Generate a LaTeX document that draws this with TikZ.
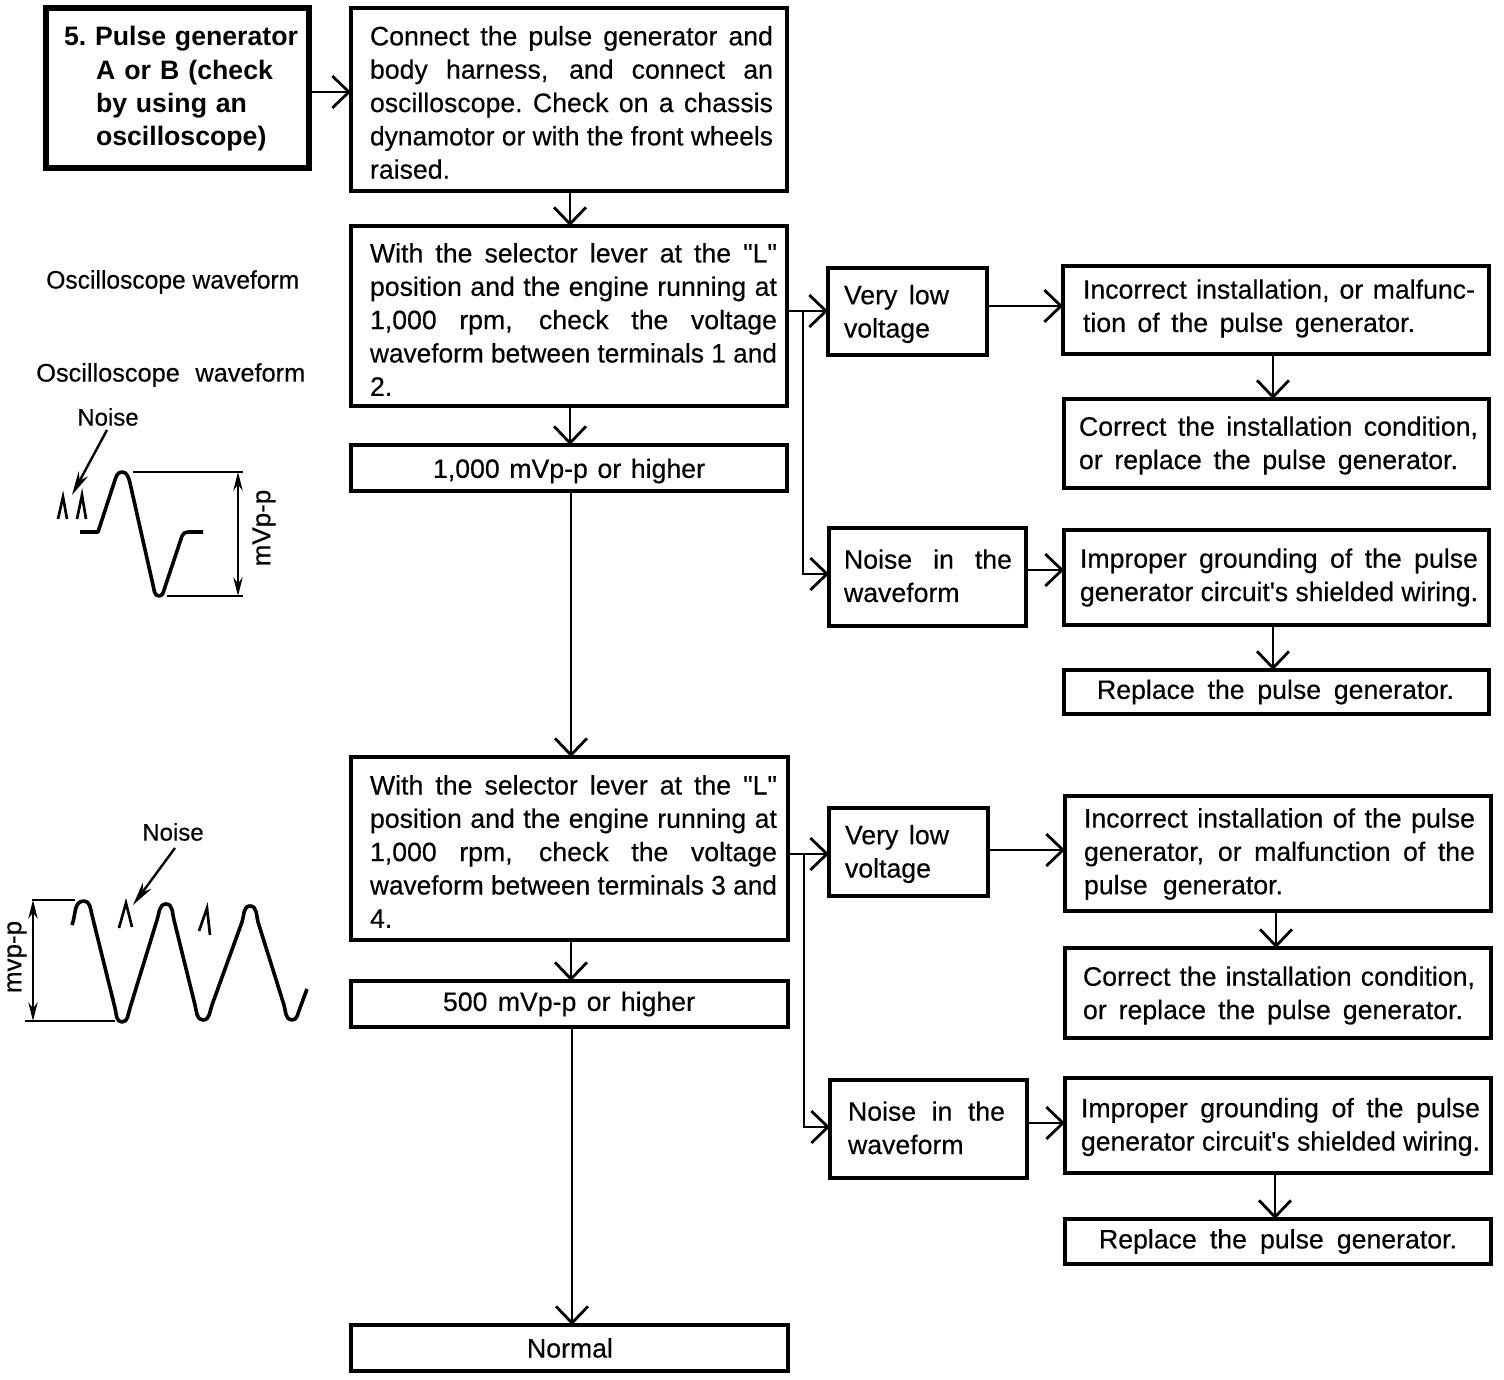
\documentclass[tikz,border=0pt]{standalone}
\usepackage{fontspec}
\usepackage{graphicx}
\setmainfont{Liberation Sans}[UprightFeatures={FakeBold=0.35}]
\newfontfamily\qf{Liberation Sans}[UprightFeatures={FakeBold=0.35}]
\usetikzlibrary{arrows.meta}
\newlength\flw
\newlength\tw
\newlength\lp
\newcommand\nsp{\spaceskip=.278em\relax\xspaceskip=.278em\relax}
\newcommand\fsp{\spaceskip=.278em plus 1fil\relax\xspaceskip=\spaceskip}
\newcommand\fitl[1]{\settowidth\flw{\nsp #1}\ifdim\flw<\tw\makebox[\tw][s]{\fsp #1}\else\resizebox{\tw}{\height}{\nsp #1}\fi}
\newcommand\jl[1]{\hspace*{\lp}\fitl{#1}}
\newcommand\pl[1]{\hspace*{\lp}{\nsp #1}}
% a line of its own width, in px
\newcommand\jt[2]{\hspace*{\lp}{\setlength\tw{\dimexpr #1pt*3/4\relax}\fitl{#2}}}
% the same, indented as the hanging lines of the title box
\newcommand\ji[2]{\hspace*{\lp}\hspace*{24pt}{\setlength\tw{\dimexpr #1pt*3/4\relax}\fitl{#2}}}
% push the text of a box down (px) by a taller first line, or up (pt of depth) by a deeper last line
\newcommand\dn[1]{\rule{0pt}{\dimexpr 14.5pt+#1pt*3/2\relax}}
\newcommand\up[1]{\rule[-#1pt]{0pt}{#1pt}}
\tikzset{
  boxbase/.style={draw,line width=2.6pt,inner sep=0pt,outer sep=0pt,align=left,font=\fontsize{20}{25}\selectfont},
  heavy/.style={line width=4.4pt},
  arr/.style={line width=2.1pt,-{Straight Barb[length=12.5pt,width=24pt,line width=2.1pt]}},
  wave/.style={line width=2.7pt,line join=round},
  thin line/.style={line width=2pt},
  dim/.style={line width=1.7pt,{Stealth[length=14pt,width=7pt]}-{Stealth[length=14pt,width=7pt]}},
  pointer/.style={line width=1.8pt,-{Stealth[length=18pt,width=8pt]}},
  spike/.style={line width=2pt},
  note/.style={inner sep=0pt,font=\fontsize{18}{22}\selectfont},
  wnote/.style={note,font=\fontsize{19}{22}\selectfont},
  vnote/.style={note,rotate=90,font=\fontsize{19.5}{22}\selectfont}
}
% style, name, x0,y0,x1,text x0,text x1,y1,text
\newcommand\boxn[9][]{%
  \setlength\tw{\dimexpr #7pt*3/4-#6pt*3/4\relax}%
  \setlength\lp{\dimexpr #6pt*3/4-#3pt*3/4\relax}%
  \pgfmathsetlengthmacro\bw{(#5-#3)*0.75}%
  \pgfmathsetlengthmacro\bh{(#8-#4)*0.75}%
  \node[boxbase,#1,minimum width=\bw,minimum height=\bh,text width=\bw] (#2) at ({(#3+#5)/2},{(#4+#8)/2}) {#9};%
}
\begin{document}
\begin{tikzpicture}[x=0.75pt,y=-0.75pt]
\useasboundingbox (0,0) rectangle (1504,1380);
\boxn[heavy]{A}{46}{8}{309}{64}{298}{168}{\dn{1}\bfseries\jl{5. Pulse generator}\\\ji{177}{A or B (check}\\\ji{151}{by using an}\\\ji{175}{oscilloscope)}}
\boxn{B}{351}{8}{787}{370}{773}{191}{\dn{3}\jl{Connect the pulse generator and}\\\jl{body harness, and connect an}\\\jl{oscilloscope. Check on a chassis}\\\jl{dynamotor or with the front wheels}\\\jt{83}{raised.}}
\boxn{C}{351}{226}{787}{370}{777}{406}{\dn{3.5}\jl{With the selector lever at the {\qf"}L{\qf"}}\\\jl{position and the engine running at}\\\jl{1,000 rpm, check the voltage}\\\jl{waveform between terminals 1 and}\\\pl{2.}}
\boxn{D}{351}{445}{787}{433}{705}{491}{\dn{3}\jl{1,000 mVp-p or higher}}
\boxn{E}{828}{268}{987}{844}{949}{355}{\dn{2.5}\jl{Very low}\\\jt{88}{voltage}}
\boxn{F}{1063}{266}{1489}{1083}{1475}{354}{\jl{Incorrect installation, or malfunc-}\\\up{6.5}\jt{332}{tion of the pulse generator.}}
\boxn{G}{1064}{399}{1489}{1079}{1478}{488}{\dn{2}\jl{Correct the installation condition,}\\\jt{379}{or replace the pulse generator.}}
\boxn{H}{829}{528}{1026}{844}{1012}{626}{\jl{Noise in the}\\\up{2}\jt{119}{waveform}}
\boxn{I}{1064}{530}{1489}{1080}{1478}{625}{\jl{Improper grounding of the pulse}\\\jl{generator circuit{\qf'}s shielded wiring.}}
\boxn{J}{1064}{670}{1489}{1097}{1454}{714}{\jl{Replace the pulse generator.}}
\boxn{K}{351}{757}{788}{370}{777}{940}{\dn{3}\jl{With the selector lever at the {\qf"}L{\qf"}}\\\jl{position and the engine running at}\\\jl{1,000 rpm, check the voltage}\\\jl{waveform between terminals 3 and}\\\pl{4.}}
\boxn{L}{351}{981}{788}{443}{695}{1027}{\jl{500 mVp-p or higher}}
\boxn{M}{829}{808}{988}{845}{949}{896}{\dn{2}\jl{Very low}\\\jt{87}{voltage}}
\boxn{N}{1065}{796}{1491}{1084}{1475}{911}{\dn{0.5}\jl{Incorrect installation of the pulse}\\\jl{generator, or malfunction of the}\\\jt{199}{pulse generator.}}
\boxn{O}{1065}{948}{1491}{1083}{1475}{1038}{\dn{2.5}\jl{Correct the installation condition,}\\\jt{380}{or replace the pulse generator.}}
\boxn{P}{830}{1080}{1027}{848}{1005}{1178}{\jl{Noise in the}\\\up{2}\jt{120}{waveform}}
\boxn{Q}{1065}{1078}{1491}{1081}{1480}{1173}{\dn{1.5}\jl{Improper grounding of the pulse}\\\jl{generator circuit{\qf'}s shielded wiring.}}
\boxn{R}{1065}{1219}{1491}{1099}{1457}{1264}{\jl{Replace the pulse generator.}}
\boxn{S}{351}{1325}{788}{527}{615}{1371}{\pl{Normal}}
% connectors
\draw[arr] (A.east |- 0,92) -- (B.west |- 0,92);
\draw[arr] (B.south -| 570,0) -- (C.north -| 570,0);
\draw[arr] (C.south -| 570,0) -- (D.north -| 570,0);
\draw[arr] (D.south -| 571,0) -- (K.north -| 571,0);
\draw[arr] (K.south -| 571,0) -- (L.north -| 571,0);
\draw[arr] (L.south -| 572,0) -- (S.north -| 572,0);
\draw[arr] (C.east |- 0,311) -- (E.west |- 0,311);
\coordinate (ja) at (803,311);
\draw[arr] (ja) -- (803,574) -- (H.west |- 0,574);
\draw[arr] (E.east |- 0,306) -- (F.west |- 0,306);
\draw[arr] (F.south -| 1273,0) -- (G.north -| 1273,0);
\draw[arr] (H.east |- 0,570) -- (I.west |- 0,570);
\draw[arr] (I.south -| 1273,0) -- (J.north -| 1273,0);
\draw[arr] (K.east |- 0,854) -- (M.west |- 0,854);
\coordinate (jb) at (804,854);
\draw[arr] (jb) -- (804,1127) -- (P.west |- 0,1127);
\draw[arr] (M.east |- 0,850) -- (N.west |- 0,850);
\draw[arr] (N.south -| 1276,0) -- (O.north -| 1276,0);
\draw[arr] (P.east |- 0,1123) -- (Q.west |- 0,1123);
\draw[arr] (Q.south -| 1275,0) -- (R.north -| 1275,0);
% labels
\setlength\tw{189.75pt}\setlength\lp{0pt}
\node[wnote,anchor=west] (osca) at (46,282) {\fitl{Oscilloscope waveform}};
\setlength\tw{201.75pt}
\node[wnote,anchor=west] (oscb) at (36,375) {\fitl{Oscilloscope waveform}};
% first waveform
\node[note] (noisea) at (108,417) {Noise};
\node[vnote] (mvpa) at (264,528) {mVp-p};
\coordinate (pa0) at (107,430); \coordinate (pa1) at (72,495);
\draw[pointer] (pa0) -- (pa1);
\draw[spike] (58,519) -- (63,497) -- (67,519);
\draw[spike] (77,519) -- (82,495) -- (86,519);
\draw[wave] (80,532) -- (98,532) -- (114,483) to[out=70,in=180] (122,472) to[out=0,in=105] (130,483) -- (153,585) to[out=-75,in=180] (159,596) to[out=0,in=-110] (165,587) -- (182,536) to[out=70,in=180] (188,532) -- (203,532);
\draw[thin line] (133,472) -- (243,472);
\draw[thin line] (167,596) -- (243,596);
\coordinate (da0) at (238,472); \coordinate (da1) at (238,596);
\draw[dim] (da0) -- (da1);
% second waveform
\node[note] (noiseb) at (173,832) {Noise};
\node[vnote] (mvpb) at (17,957) {mvp-p};
\coordinate (pb0) at (175,848); \coordinate (pb1) at (133,905);
\draw[pointer] (pb0) -- (pb1);
\draw[spike] (119,928) -- (126,903) -- (132,927);
\draw[spike] (199,931) -- (207,908) -- (210,935);
\draw[wave] (72,925) to[out=68,in=180] (84,901) to[out=0,in=105] (92,915)
  -- (115,1008) to[out=-75,in=180] (122,1022) to[out=0,in=-110] (130,1008)
  -- (157,920) to[out=70,in=180] (166,904) to[out=0,in=105] (174,920)
  -- (195,1005) to[out=-75,in=180] (203,1020) to[out=0,in=-110] (212,1005)
  -- (242,922) to[out=70,in=180] (250,906) to[out=0,in=105] (258,922)
  -- (284,1005) to[out=-75,in=180] (292,1020) to[out=0,in=-115] (300,1008) -- (307,989);
\draw[thin line] (32,900) -- (75,900);
\draw[thin line] (25,1021) -- (115,1021);
\coordinate (db0) at (33,900); \coordinate (db1) at (33,1021);
\draw[dim] (db0) -- (db1);
\end{tikzpicture}
\end{document}
